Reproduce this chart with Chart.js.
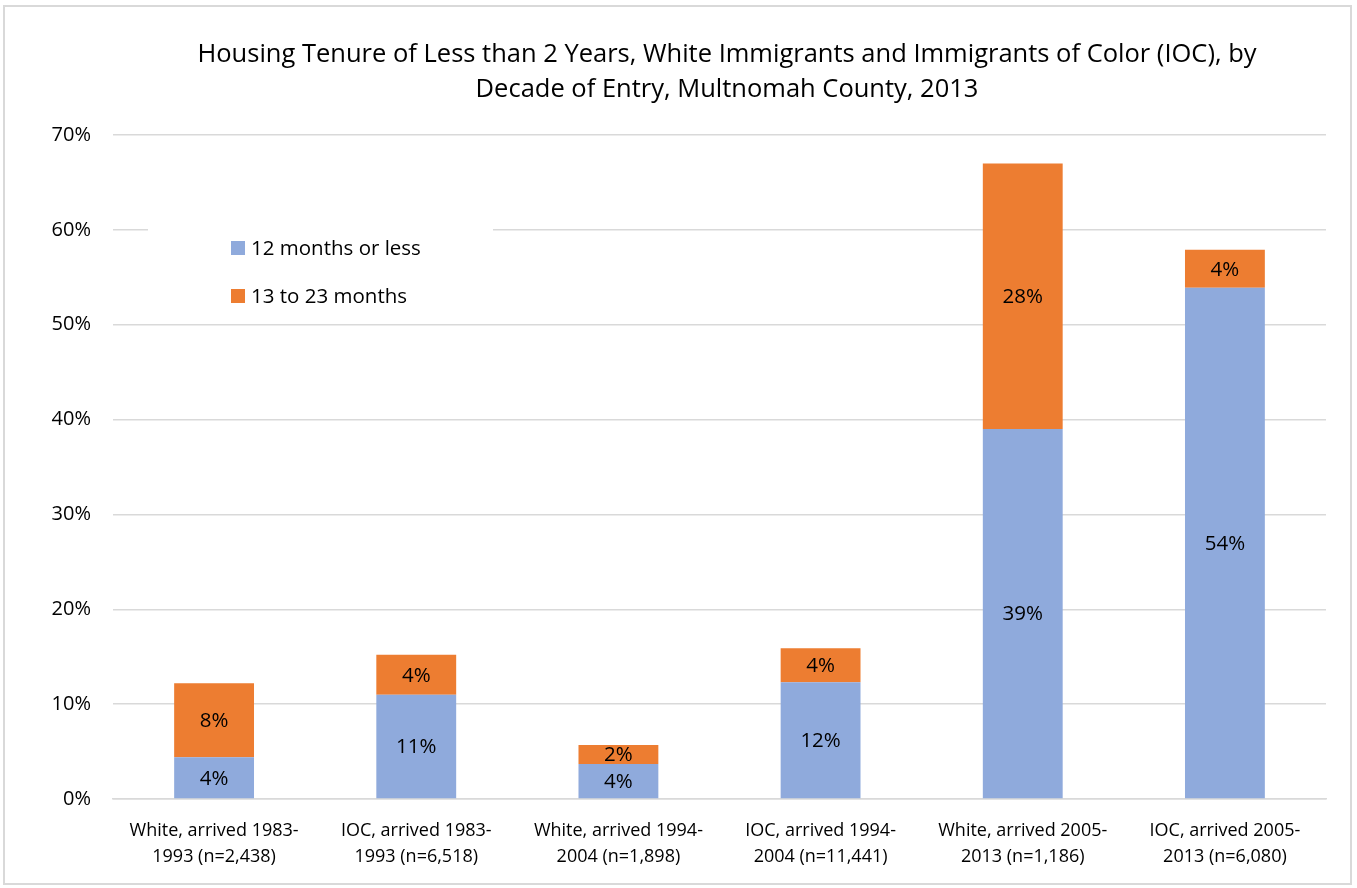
<!DOCTYPE html>
<html>
<head>
<meta charset="utf-8">
<script src="https://cdn.jsdelivr.net/npm/chart.js@4"></script>
<style>
  html, body { margin: 0; padding: 0; background: #fff; }
  #wrap { position: absolute; left: 0; top: 0; width: 1357px; height: 888px; }
  #frame { position: absolute; left: 3px; top: 5px; width: 1349px; height: 880px; border: 2px solid #d9d9d9; box-sizing: border-box; pointer-events: none; }
</style>
</head>
<body>
<div id="wrap">
  <canvas id="c" width="1357" height="888"></canvas>
  <div id="frame"></div>
</div>
<script>
const categories = [
  ["White, arrived 1983-", "1993 (n=2,438)"],
  ["IOC, arrived 1983-", "1993 (n=6,518)"],
  ["White, arrived 1994-", "2004 (n=1,898)"],
  ["IOC, arrived 1994-", "2004 (n=11,441)"],
  ["White, arrived 2005-", "2013 (n=1,186)"],
  ["IOC, arrived 2005-", "2013 (n=6,080)"]
];
const seriesNames = ["12 months or less", "13 to 23 months"];
const twelveOrLess = [4.4, 11.0, 3.7, 12.3, 39.0, 53.9];
const thirteenTo23 = [7.8, 4.2, 2.0, 3.6, 28.0, 4.0];
const titleLines = [
  "Housing Tenure of Less than 2 Years, White Immigrants and Immigrants of Color (IOC), by",
  "Decade of Entry, Multnomah County, 2013"
];

const FONT = "'Open Sans', 'Noto Sans', sans-serif";

const overlayPlugin = {
  id: 'overlay',
  afterDatasetsDraw(chart) {
    const ctx = chart.ctx;
    ctx.save();
    ctx.fillStyle = '#000';
    ctx.font = '20.5px ' + FONT;
    ctx.textAlign = 'center';
    ctx.textBaseline = 'middle';
    chart.data.datasets.forEach((ds, di) => {
      const meta = chart.getDatasetMeta(di);
      meta.data.forEach((bar, i) => {
        const v = ds.data[i];
        const y = (bar.y + bar.base) / 2;
        ctx.fillText(Math.round(v) + '%', bar.x, y + 1);
      });
    });
    ctx.restore();
  },
  afterDraw(chart) {
    const ctx = chart.ctx;
    ctx.save();
    ctx.fillStyle = '#000';
    ctx.font = '25.5px ' + FONT;
    ctx.textAlign = 'center';
    ctx.textBaseline = 'middle';
    ctx.fillText(titleLines[0], 727, 55);
    ctx.fillText(titleLines[1], 727, 90);
    ctx.fillStyle = '#fff';
    ctx.fillRect(148, 205, 345, 115);
    const colors = chart.data.datasets.map(d => d.backgroundColor);
    ctx.font = '20.5px ' + FONT;
    ctx.textAlign = 'left';
    const ys = [248, 296];
    chart.data.datasets.forEach((ds, i) => {
      ctx.fillStyle = colors[i];
      ctx.fillRect(231, ys[i] - 7, 14, 14);
      ctx.fillStyle = '#000';
      ctx.fillText(ds.label, 251, ys[i] + 1);
    });
    ctx.restore();
  }
};

new Chart(document.getElementById('c'), {
  type: 'bar',
  data: {
    labels: categories,
    datasets: [
      { label: seriesNames[0], data: twelveOrLess, backgroundColor: '#8FAADC', borderWidth: 0 },
      { label: seriesNames[1], data: thirteenTo23, backgroundColor: '#ED7D31', borderWidth: 0 }
    ]
  },
  options: {
    responsive: false,
    animation: false,
    devicePixelRatio: 1,
    layout: { padding: { top: 135, right: 31, left: 0, bottom: 0 } },
    plugins: { legend: { display: false }, title: { display: false }, tooltip: { enabled: false } },
    datasets: { bar: { categoryPercentage: 1.0, barPercentage: 0.395 } },
    scales: {
      x: {
        stacked: true,
        grid: { display: false, drawTicks: false },
        border: { display: true, color: '#d9d9d9', width: 1.5 },
        ticks: { color: '#000', font: { family: FONT, size: 18, lineHeight: 1.45 }, autoSkip: false, maxRotation: 0, minRotation: 0, padding: 19 },
        afterFit(scale) { scale.height = 89; }
      },
      y: {
        stacked: true,
        min: 0, max: 70,
        grid: { color: '#d9d9d9', lineWidth: 1.5, drawTicks: false },
        border: { display: false },
        ticks: { stepSize: 10, color: '#000', font: { family: FONT, size: 20 }, padding: 22, callback: v => v + '%' },
        afterFit(scale) { scale.width = 113; }
      }
    }
  },
  plugins: [overlayPlugin]
});
</script>
</body>
</html>
